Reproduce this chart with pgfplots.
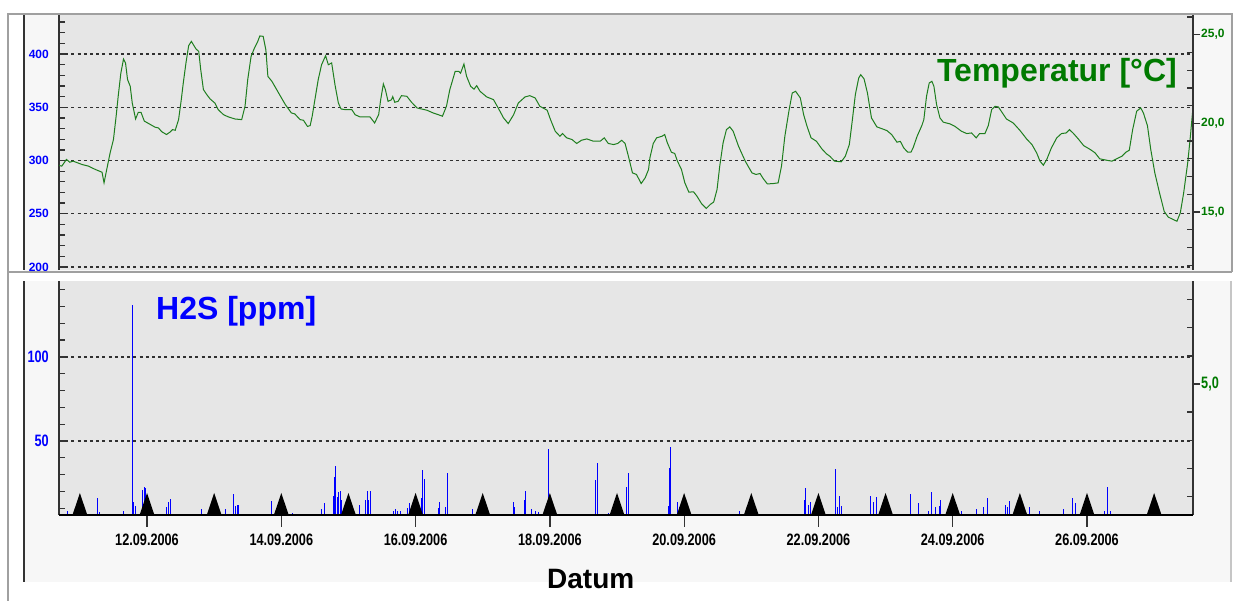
\documentclass[border=0pt]{standalone}
\usepackage{fontspec}
\setmainfont{Liberation Sans}
\newfontfamily\narrow[FakeStretch=0.77]{Liberation Sans}
\usepackage{pgfplots}
\pgfplotsset{compat=1.18}

\definecolor{PlotBg}{HTML}{E6E6E6}
\definecolor{PanelBg}{HTML}{F7F7F7}
\definecolor{FrameGray}{HTML}{A0A0A0}
\definecolor{AxisDark}{HTML}{333333}
\definecolor{GridDark}{HTML}{303030}
\definecolor{TempGreen}{HTML}{007A00}
\definecolor{CurveGreen}{HTML}{1E7E1E}
\definecolor{H2SBlue}{HTML}{0000FF}

\newcommand\toplabel{\fontsize{12}{12}\selectfont\bfseries}
\newcommand\botlabel{\narrow\fontsize{16.5}{16.5}\selectfont\bfseries}

% day marker: triangle standing on the baseline
\pgfdeclareplotmark{daytri}{%
  \pgfpathmoveto{\pgfpoint{-7.4pt}{0pt}}%
  \pgfpathlineto{\pgfpoint{0pt}{22pt}}%
  \pgfpathlineto{\pgfpoint{7.4pt}{0pt}}%
  \pgfpathclose\pgfusepathqfill}

\pgfplotsset{
  base/.style={scale only axis, width=1134pt, xmin=10.689, xmax=27.579,
    axis line style={draw=AxisDark, line width=1.6pt},
    every tick/.style={draw=AxisDark, line width=1.3pt}},
  toppanel/.style={base, at={(59pt,331pt)}, anchor=south west, height=256pt},
  botpanel/.style={base, at={(59pt,86pt)}, anchor=south west, height=234pt},
  dashgrid/.style={ymajorgrids, major grid style={draw=GridDark, line width=1.2pt, dash pattern=on 3pt off 3.2pt}},
}

\begin{document}
\begin{tikzpicture}
\useasboundingbox (0pt,0pt) rectangle (1234pt,601pt);
\fill[white] (0pt,0pt) rectangle (1234pt,601pt);
\fill[PanelBg] (24pt,329pt) rectangle (1232pt,587pt);
\fill[PanelBg] (24pt,19pt) rectangle (1231pt,320pt);

% ---------- top panel ----------
\begin{axis}[toppanel, axis background/.style={fill=PlotBg},
  axis x line=none, axis y line*=left,
  ymin=197.2, ymax=437.6,
  ytick={200,250,300,350,400}, yticklabels={200,250,300,350,400},
  minor ytick={210,220,...,430},
  tick align=inside, major tick length=6pt, minor tick length=6pt,
  dashgrid,
  yticklabel style={font=\toplabel, text=H2SBlue, inner sep=0pt, anchor=east, xshift=-10pt}]
\addplot[CurveGreen, line width=1pt] table {
10.68 295.6
10.73 294.7
10.80 301
10.85 298.4
10.90 299.4
11.03 296.3
11.13 294.7
11.23 291.6
11.33 289
11.36 279
11.40 291.6
11.45 307
11.50 319.7
11.54 341.6
11.57 360
11.61 382
11.65 395.3
11.68 391.6
11.71 376
11.75 369.7
11.78 354
11.83 339
11.87 345.3
11.91 345.3
11.96 337
12.05 333.8
12.12 331.3
12.17 330.6
12.22 327
12.29 324.4
12.34 326.6
12.38 329
12.42 328.4
12.47 338.4
12.51 357
12.54 372.8
12.58 391.6
12.62 407.8
12.66 411.9
12.69 408.8
12.73 404.7
12.77 402.5
12.80 385.3
12.84 366.6
12.89 361.9
12.94 357.8
13.01 354
13.06 347.8
13.14 343
13.21 341
13.31 339
13.41 338.4
13.46 351
13.50 376
13.55 397.8
13.60 405.6
13.65 411.9
13.68 417
13.73 416.6
13.77 404
13.80 379
13.86 374.4
13.96 363.4
14.06 352.5
14.15 344.7
14.20 343.8
14.28 338.4
14.33 337.8
14.39 332
14.43 332.8
14.46 341.6
14.50 357
14.55 376
14.60 390
14.66 398.4
14.70 390
14.75 391.6
14.80 371
14.85 354
14.89 348.4
14.95 347.8
15.05 347.8
15.10 343
15.17 341
15.32 341
15.39 335.3
15.45 343
15.48 357
15.52 371.9
15.55 366.6
15.59 355.6
15.64 357
15.66 360
15.69 354.7
15.74 355.6
15.79 360.9
15.87 360.3
15.94 354.7
16.02 349.4
16.17 347.2
16.26 344.7
16.34 343
16.40 341.6
16.46 351
16.51 366.6
16.59 383.8
16.64 383.8
16.67 382
16.72 390.6
16.76 379
16.82 369.7
16.87 367
16.91 370.3
16.96 365
17.06 359.7
17.16 357.2
17.23 349.4
17.31 340
17.38 334.7
17.46 343
17.53 354
17.63 359.7
17.70 360.9
17.78 358.8
17.85 351
17.96 347.2
18.01 338.4
18.08 327.5
18.15 322.8
18.19 325.3
18.25 321.3
18.33 319.7
18.40 316
18.47 319
18.55 320.3
18.65 318.1
18.75 318.1
18.81 321.3
18.87 316
18.95 315
19.01 316
19.07 319
19.12 316
19.17 304
19.23 288.4
19.29 286.9
19.36 278.4
19.42 283.8
19.47 291.6
19.49 302.5
19.54 316
19.59 321.3
19.67 322.8
19.71 324.4
19.75 316.6
19.81 307.8
19.86 306.6
19.90 299.4
19.96 291.6
20.01 279.1
20.07 270.3
20.14 270.6
20.19 266.6
20.26 259.4
20.33 255
20.39 258.8
20.44 261
20.49 272.8
20.53 294.7
20.58 316.6
20.63 329
20.68 331.6
20.73 327.5
20.81 313.4
20.91 299.4
21.01 288.4
21.07 286.9
21.13 287.8
21.18 282.8
21.24 278
21.33 278.4
21.40 279
21.45 294.7
21.50 322.8
21.56 346.3
21.61 363.4
21.66 365
21.73 358.8
21.78 343
21.83 332.2
21.89 321.3
21.97 318.1
22.05 311
22.12 306.3
22.17 304
22.24 299.4
22.34 298.8
22.40 304
22.46 315
22.50 335.3
22.55 361.9
22.60 377.5
22.63 380.6
22.68 376.6
22.73 363.4
22.79 340
22.87 331.6
22.94 330
23.02 328.1
23.09 324.4
23.17 317.2
23.22 318
23.27 311.9
23.33 307.8
23.38 308
23.41 311.9
23.47 322.8
23.54 332.8
23.57 338.4
23.61 360.3
23.65 372.8
23.69 374.4
23.72 369.7
23.76 352.5
23.81 340
23.86 336
23.96 334.4
24.03 332.2
24.13 327.5
24.21 325.3
24.28 325.9
24.35 321.3
24.40 325.3
24.48 325.3
24.53 332.8
24.58 347.8
24.63 350.9
24.68 350.3
24.74 344.7
24.80 339
24.90 335.3
25.00 328.4
25.10 320.3
25.18 315
25.25 307.2
25.30 299.4
25.35 295.6
25.40 300.9
25.47 311.9
25.55 321.3
25.62 325.3
25.69 325.9
25.74 329
25.80 325.3
25.87 320.3
25.95 314
26.05 310.3
26.12 307.2
26.19 301.6
26.29 300.3
26.37 299.4
26.44 301.6
26.52 304
26.58 307.8
26.63 309.7
26.68 329
26.74 346.3
26.80 349.4
26.84 344.7
26.90 332.8
26.95 310.3
27.01 288.4
27.08 269.7
27.15 252.2
27.21 246.9
27.29 244.4
27.34 243
27.39 250.9
27.44 269.7
27.50 297.8
27.54 322.8
27.58 350.9
};
\end{axis}

% right axis, inward minor ticks (degrees C)
\begin{axis}[toppanel, axis x line=none, axis y line*=right,
  ymin=11.73, ymax=26.17,
  ytick={12,13,14,16,17,18,19,21,22,23,24,26}, yticklabels={},
  tick align=inside, major tick length=6pt]
\end{axis}
% right axis, labelled ticks
\begin{axis}[toppanel, axis x line=none, axis y line*=right,
  ymin=11.73, ymax=26.17,
  ytick={15,20,25}, yticklabels={15{,}0,20{,}0,25{,}0},
  tick align=outside, major tick length=7pt,
  yticklabel style={font=\toplabel, text=TempGreen, inner sep=0pt, anchor=west, xshift=1pt}]
\end{axis}

% ---------- bottom panel ----------
\begin{axis}[botpanel, axis background/.style={fill=PlotBg},
  axis x line=none, axis y line*=left,
  ymin=5.95, ymax=145.2,
  ytick={50,100}, yticklabels={50,100},
  minor ytick={10,20,...,140},
  tick align=inside, major tick length=6pt, minor tick length=6pt,
  dashgrid,
  yticklabel style={font=\botlabel, text=H2SBlue, inner sep=0pt, anchor=east, xshift=-10pt}]
\addplot[ycomb, H2SBlue, line width=1pt] coordinates {
(10.813,8.5) (11.266,16.3) (11.285,8.0) (11.647,8.5) (11.777,131) (11.796,13.9)
(11.821,11.3) (11.936,20.8) (11.960,22.7) (11.981,21.8) (12.293,10.5) (12.317,13.9)
(12.357,15.3) (12.815,9.3) (13.172,9.3) (13.285,18.5) (13.311,11.3) (13.345,11.9)
(13.366,11.9) (13.857,14.3) (14.170,7.3)
(14.606,9.3) (14.641,12.9) (14.775,17.3) (14.790,28.4) (14.805,35.1) (14.834,16.5)
(14.855,19.8) (14.875,20.4) (14.894,14.9) (15.172,11.7) (15.257,14.9) (15.277,20.4)
(15.302,14.9) (15.332,20.4) (15.668,8.5) (15.704,9.5) (15.734,8.5) (15.768,8.5)
(15.877,9.9) (15.907,12.9) (16.091,15.9) (16.106,32.7) (16.126,27.2) (16.334,9.9)
(16.349,13.9) (16.449,10.9) (16.473,30.8) (16.841,9.3) (17.456,13.9) (17.471,10.5)
(17.615,14.9) (17.630,20.4) (17.719,9.3) (17.779,8.5) (17.828,8.0) (17.983,45.0)
(18.687,26.8) (18.702,37.1) (18.871,7.0) (19.145,22.8) (19.164,30.8) (19.764,11.3)
(19.779,33.7) (19.794,46.2) (19.904,13.9) (19.924,10.5) (20.822,8.5)
(21.791,14.9) (21.803,21.8) (21.858,11.9) (21.882,13.9) (22.259,33.1) (22.283,10.5)
(22.318,17.3) (22.342,11.4) (22.780,17.3) (22.822,13.9) (22.858,16.5)
(23.364,18.4) (23.488,12.9) (23.637,8.5) (23.687,19.4) (23.737,10.5) (23.800,11.3)
(23.822,14.9) (24.124,8.5) (24.358,9.3) (24.456,10.5) (24.522,16.3) (24.779,11.9)
(24.813,10.5) (24.843,14.3) (25.141,10.5) (25.300,8.5) (25.647,9.3) (25.787,16.3)
(25.822,12.9) (26.254,8.5) (26.303,22.8) (26.353,8.5)
};
\addplot[only marks, mark=daytri, black] coordinates {
(11,5.95) (12,5.95) (13,5.95) (14,5.95) (15,5.95) (16,5.95) (17,5.95) (18,5.95)
(19,5.95) (20,5.95) (21,5.95) (22,5.95) (23,5.95) (24,5.95) (25,5.95) (26,5.95) (27,5.95)
};
\end{axis}

\begin{axis}[botpanel, axis x line=none, axis y line*=right,
  ymin=0.345, ymax=8.66,
  ytick={1,2,3,4,6,7,8}, yticklabels={},
  tick align=inside, major tick length=6pt]
\end{axis}
\begin{axis}[botpanel, axis x line=none, axis y line*=right,
  ymin=0.345, ymax=8.66,
  ytick={5}, yticklabels={5{,}0},
  tick align=outside, major tick length=7pt,
  yticklabel style={font=\botlabel, text=TempGreen, inner sep=0pt, anchor=west, xshift=1pt}]
\end{axis}
% date axis
\begin{axis}[botpanel, axis y line=none, axis x line*=bottom,
  ymin=0, ymax=1,
  axis line style={draw=black, line width=1.8pt},
  xtick={12,14,16,18,20,22,24,26},
  xticklabels={12.09.2006,14.09.2006,16.09.2006,18.09.2006,20.09.2006,22.09.2006,24.09.2006,26.09.2006},
  tick align=outside, major tick length=12pt,
  xticklabel style={font=\botlabel, text=black, inner sep=0pt, anchor=north, yshift=-7pt}]
\end{axis}

% frames
\draw[FrameGray, line width=2pt] (8pt,0pt) -- (8pt,587pt) -- (1232pt,587pt) -- (1232pt,329pt);
\draw[FrameGray, line width=2pt] (8pt,329pt) -- (1232pt,329pt);
\draw[FrameGray!60, line width=1.5pt] (1231pt,320pt) -- (1231pt,19pt);
\draw[AxisDark, line width=2pt] (24pt,331pt) -- (24pt,586pt);
\draw[AxisDark, line width=2pt] (24pt,19pt) -- (24pt,320pt);

% titles
\node[anchor=base east, inner sep=0pt, text=TempGreen, font=\fontsize{32}{32}\selectfont\bfseries]
  at (1177pt,519.3pt) {Temperatur [°C]};
\node[anchor=base west, inner sep=0pt, text=H2SBlue, font=\fontsize{32}{32}\selectfont\bfseries]
  at (156pt,281pt) {H2S [ppm]};
\node[anchor=base west, inner sep=0pt, font=\fontsize{28}{28}\selectfont\bfseries]
  at (547pt,12pt) {Datum};
\end{tikzpicture}
\end{document}
